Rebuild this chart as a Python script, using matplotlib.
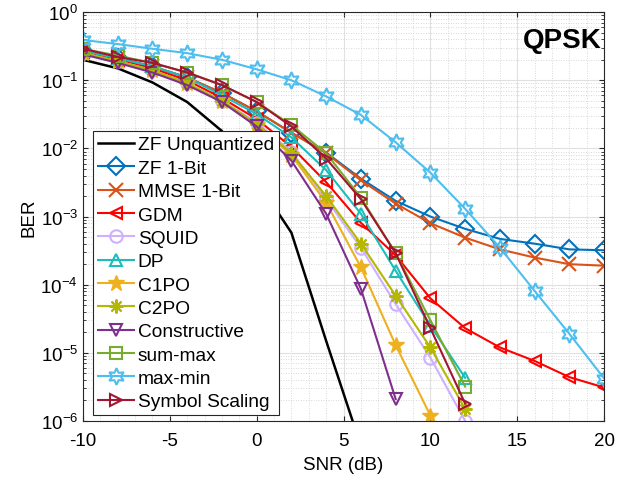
import matplotlib
matplotlib.use("Agg")
import matplotlib.pyplot as plt
from matplotlib.ticker import LogLocator, NullFormatter, MultipleLocator

plt.rcParams["font.family"] = ["Liberation Sans", "DejaVu Sans"]
plt.rcParams["axes.unicode_minus"] = False

snr = [-10, -8, -6, -4, -2, 0, 2, 4, 6, 8, 10, 12, 14, 16, 18, 20]

zf_unq = [0.20, 0.15, 0.093, 0.048, 0.018, 3.4e-3, 5.8e-4, 1.5e-5, 4.3e-7]
zf_1bit = [0.27, 0.21, 0.16, 0.11, 0.065, 0.035, 0.017, 8.7e-3, 3.6e-3, 1.7e-3, 1.0e-3, 6.6e-4, 4.7e-4, 4.0e-4, 3.3e-4, 3.2e-4]
mmse_1bit = [0.27, 0.21, 0.16, 0.11, 0.065, 0.035, 0.017, 8.5e-3, 3.4e-3, 1.55e-3, 8e-4, 4.9e-4, 3.3e-4, 2.5e-4, 2.0e-4, 1.9e-4]
gdm = [0.26, 0.20, 0.15, 0.10, 0.055, 0.027, 0.0105, 3.2e-3, 8.1e-4, 2.7e-4, 6.3e-5, 2.3e-5, 1.2e-5, 7.6e-6, 4.4e-6, 3.1e-6]
squid = [0.25, 0.19, 0.14, 0.09, 0.05, 0.024, 0.009, 1.8e-3, 3.5e-4, 5.2e-5, 8.5e-6, 1.0e-6]
dp = [0.27, 0.21, 0.16, 0.11, 0.06, 0.032, 0.0145, 4.8e-3, 1.1e-3, 1.6e-4, 2.5e-5, 4.3e-6]
c1po = [0.25, 0.19, 0.14, 0.09, 0.05, 0.022, 0.008, 1.6e-3, 1.8e-4, 1.3e-5, 1.2e-6]
c2po = [0.25, 0.19, 0.14, 0.09, 0.05, 0.023, 0.0085, 2.0e-3, 4.0e-4, 6.9e-5, 1.2e-5, 1.5e-6]
constructive = [0.24, 0.18, 0.13, 0.085, 0.048, 0.021, 6.6e-3, 1.1e-3, 8.7e-5, 2.1e-6]
sum_max = [0.29, 0.23, 0.18, 0.13, 0.085, 0.048, 0.022, 8.5e-3, 1.9e-3, 2.9e-4, 3e-5, 3.2e-6]
max_min = [0.39, 0.34, 0.29, 0.25, 0.20, 0.145, 0.10, 0.058, 0.031, 0.0123, 4.4e-3, 1.3e-3, 3.5e-4, 8.1e-5, 1.9e-5, 4.2e-6]
sym_scaling = [0.29, 0.22, 0.18, 0.13, 0.085, 0.048, 0.021, 7.1e-3, 1.8e-3, 2.9e-4, 2.3e-5, 1.8e-6]

series = [
    ("ZF Unquantized", zf_unq, "#000000", None),
    ("ZF 1-Bit", zf_1bit, "#0072BD", "D"),
    ("MMSE 1-Bit", mmse_1bit, "#D95319", "x"),
    ("GDM", gdm, "#FF0000", "<"),
    ("SQUID", squid, "#CDB0FF", "o"),
    ("DP", dp, "#1CBDBD", "^"),
    ("C1PO", c1po, "#EDB120", "*"),
    ("C2PO", c2po, "#B5B800", (8, 2, 0)),
    ("Constructive", constructive, "#7E2F8E", "v"),
    ("sum-max", sum_max, "#77AC30", "s"),
    ("max-min", max_min, "#4DBEEE", (6, 1, 0)),
    ("Symbol Scaling", sym_scaling, "#A2142F", ">"),
]

fig = plt.figure(figsize=(6.28, 4.81), dpi=100)
ax = fig.add_axes([0.132, 0.1227, 0.830, 0.850])

for label, vals, color, mk in series:
    x = snr[:len(vals)]
    if mk is None:
        ax.semilogy(x, vals, color=color, lw=1.8, label=label)
    elif mk == "*":
        ax.semilogy(x, vals, color=color, lw=1.5, marker=mk, ms=12, mec=color, mfc=color, label=label)
    elif mk in ("x", (8, 2, 0)):
        ax.semilogy(x, vals, color=color, lw=1.5, marker=mk, ms=10, mew=1.5, label=label)
    elif mk == (6, 1, 0):
        ax.semilogy(x, vals, color=color, lw=1.5, marker=mk, ms=12, mfc="none", mew=1.5, label=label)
    else:
        ax.semilogy(x, vals, color=color, lw=1.5, marker=mk, ms=9, mfc="none", mew=1.5, label=label)

ax.set_xlim(-10, 20)
ax.set_ylim(1e-6, 1)
ax.xaxis.set_major_locator(MultipleLocator(5))
ax.yaxis.set_major_locator(LogLocator(base=10, numticks=10))
ax.yaxis.set_minor_locator(LogLocator(base=10, subs=range(2, 10), numticks=20))
ax.yaxis.set_minor_formatter(NullFormatter())
ax.grid(True, which="major", color="#e0e0e0", lw=0.8)
ax.grid(True, which="minor", axis="y", color="#cccccc", lw=0.6, ls=(0, (1, 2)))
ax.xaxis.set_minor_locator(MultipleLocator(1))
ax.grid(True, which="minor", axis="x", color="#cccccc", lw=0.6, ls=(0, (1, 2)))
ax.tick_params(which="both", direction="in", top=True, right=True, labelsize=13.5, color="#262626")
ax.tick_params(which="minor", axis="x", length=0)
ax.tick_params(which="major", axis="x", pad=8)
for s in ax.spines.values():
    s.set_color("#262626")

ax.set_xlabel("SNR (dB)", fontsize=13.5, labelpad=5)
ax.set_ylabel("BER", fontsize=13.5, labelpad=2)
ax.text(0.995, 0.932, "QPSK", transform=ax.transAxes, ha="right", va="center",
        fontsize=20, fontweight="bold")

leg = ax.legend(loc="lower left", bbox_to_anchor=(0.008, 0.0), fontsize=13.8,
                frameon=True, fancybox=False, edgecolor="#262626", framealpha=1,
                handlelength=1.9, labelspacing=0.31, borderpad=0.25, handletextpad=0.2,
                borderaxespad=0.3)
leg.get_frame().set_linewidth(0.8)

fig.savefig("out.png", dpi=100, facecolor="white")
